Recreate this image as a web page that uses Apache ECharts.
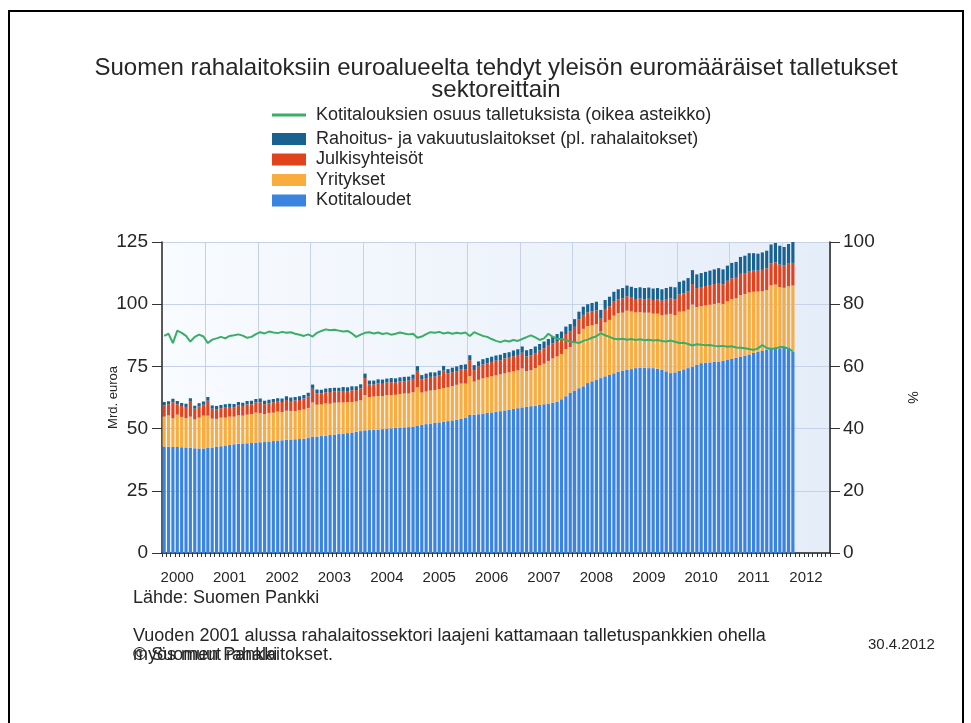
<!DOCTYPE html>
<html>
<head>
<meta charset="utf-8">
<script src="https://cdn.jsdelivr.net/npm/echarts@6/dist/echarts.min.js"></script>
<style>html,body{margin:0;padding:0;background:#fff}#c{width:971px;height:723px}</style>
</head>
<body>
<div id="c"></div>
<script>
// Months on the category axis: Mar 2000 .. Nov 2012 (data through Mar 2012)
const startYear = 2000, startMonth = 3, endYear = 2012, endMonth = 11;
const months = [];
for (let y = startYear; y <= endYear; y++) {
  for (let m = 1; m <= 12; m++) {
    if (y === startYear && m < startMonth) continue;
    if (y === endYear && m > endMonth) continue;
    months.push(y + '-' + (m < 10 ? '0' + m : m));
  }
}

// Kotitaloudet (households), mrd. euroa
const kotitaloudet = [
  42.8, 42.7, 42.6, 42.6, 42.5, 42.4, 42.3, 42.1, 42.0, 42.0,
  42.2, 42.4, 42.6, 42.9, 43.2, 43.5, 43.7, 43.9, 44.0, 44.1, 44.2, 44.4,
  44.5, 44.6, 44.8, 45.0, 45.2, 45.3, 45.5, 45.6, 45.7, 45.8, 45.9, 46.2,
  46.6, 46.8, 47.0, 47.2, 47.4, 47.6, 47.8, 48.0, 48.2, 48.4, 48.7, 49.0,
  49.3, 49.4, 49.5, 49.6, 49.8, 50.0, 50.1, 50.3, 50.4, 50.5, 50.6, 50.8,
  51.2, 51.5, 51.8, 52.0, 52.3, 52.5, 52.8, 53.0, 53.3, 53.6, 53.9, 54.3,
  55.5, 55.6, 55.8, 56.0, 56.3, 56.5, 56.8, 57.0, 57.3, 57.6, 57.9, 58.2,
  58.5, 58.7, 59.0, 59.2, 59.5, 59.8, 60.1, 60.4, 60.8, 61.8, 63.0, 64.3,
  65.3, 66.2, 67.0, 68.3, 69.0, 69.7, 70.3, 71.0, 71.6, 72.2, 72.9, 73.3,
  73.6, 73.9, 74.3, 74.4, 74.4, 74.3, 74.3, 74.1, 73.6, 73.0, 72.3, 72.6,
  73.2, 73.8, 74.3, 74.9, 75.6, 76.3, 76.5, 76.6, 76.8, 76.9, 77.2, 77.6,
  78.0, 78.4, 78.8, 79.3, 79.8, 80.4, 80.8, 81.2, 81.6, 82.0, 82.2, 82.3,
  82.4, 82.4, 80.9
];
// Yritykset (companies)
const yritykset = [
  12.0, 12.6, 11.5, 13.0, 12.2, 11.8, 12.5, 11.6, 12.4, 13.2,
  13.0, 11.6, 11.3, 11.5, 11.2, 11.3, 11.1, 11.4, 11.2, 11.5, 11.6, 12.0,
  11.7, 11.2, 11.5, 11.4, 11.6, 11.3, 11.7, 11.5, 11.4, 11.6, 11.8, 12.1,
  13.9, 12.8, 12.7, 12.9, 12.6, 12.8, 12.7, 12.5, 12.4, 12.3, 12.2, 12.4,
  14.2, 13.3, 13.4, 13.5, 13.3, 13.5, 13.4, 13.3, 13.5, 13.6, 13.5, 13.8,
  15.5, 13.0, 13.1, 13.3, 13.2, 13.4, 13.5, 13.6, 13.8, 14.0, 14.2, 13.8,
  15.6, 13.3, 13.8, 14.2, 14.3, 14.5, 14.6, 14.8, 14.9, 15.0, 15.1, 15.2,
  15.7, 14.4, 14.5, 15.1, 15.9, 16.3, 17.1, 17.8, 18.2, 18.2, 19.0, 18.5,
  19.3, 21.8, 23.1, 22.9, 22.5, 22.3, 18.7, 21.7, 22.1, 23.2, 23.5, 23.3,
  23.8, 23.2, 22.4, 22.4, 22.2, 22.3, 21.9, 22.1, 22.0, 22.8, 23.8, 23.0,
  23.8, 23.3, 23.5, 25.0, 23.3, 22.9, 23.0, 23.2, 23.3, 23.6, 22.9, 23.6,
  24.1, 24.0, 24.9, 24.8, 24.9, 24.6, 24.3, 24.0, 24.1, 25.6, 25.7, 24.6,
  24.2, 24.8, 26.6
];
// Julkisyhteisöt (public sector)
const julkisyhteisot = [
  4.6, 4.5, 6.5, 4.2, 4.4, 4.5, 6.0, 4.3, 4.5, 4.4,
  6.0, 4.0, 3.9, 3.8, 4.0, 3.9, 3.8, 4.0, 3.9, 4.1, 4.0, 4.1,
  4.4, 4.0, 3.9, 4.2, 4.0, 4.1, 4.3, 4.0, 4.2, 4.1, 4.4, 4.6,
  5.5, 4.6, 4.4, 4.5, 4.7, 4.5, 4.4, 4.6, 4.5, 4.7, 4.6, 4.8,
  6.8, 5.0, 4.8, 5.1, 4.9, 5.0, 5.2, 4.9, 5.1, 5.0, 5.2, 5.4,
  6.5, 5.3, 5.4, 5.5, 5.4, 5.6, 7.0, 5.5, 5.6, 5.5, 5.7, 5.8,
  6.4, 4.6, 5.4, 5.6, 5.7, 5.8, 5.9, 5.7, 6.0, 5.9, 6.1, 6.2,
  6.3, 5.9, 6.0, 6.1, 6.0, 6.2, 6.1, 6.0, 6.2, 6.1, 6.0, 6.2,
  6.3, 5.8, 5.6, 5.5, 5.6, 5.5, 5.2, 5.4, 5.5, 5.6, 5.5, 5.7,
  5.8, 5.5, 5.4, 5.5, 5.4, 5.6, 5.5, 5.7, 5.8, 6.0, 6.2, 6.4,
  7.0, 7.2, 7.4, 8.2, 7.6, 7.7, 7.8, 7.9, 8.0, 8.0, 7.9, 8.2,
  8.3, 8.2, 8.5, 8.4, 8.6, 8.5, 8.4, 8.6, 8.7, 8.8, 8.9, 9.0,
  9.0, 9.1, 9.1
];
// Rahoitus- ja vakuutuslaitokset
const rahoitus = [
  1.3, 1.2, 1.4, 1.3, 1.2, 1.3, 1.4, 1.2, 1.3, 1.3,
  1.5, 1.3, 1.3, 1.3, 1.4, 1.3, 1.3, 1.4, 1.3, 1.4, 1.4, 1.4,
  1.5, 1.4, 1.4, 1.3, 1.4, 1.4, 1.5, 1.4, 1.4, 1.5, 1.4, 1.5,
  1.7, 1.5, 1.5, 1.5, 1.6, 1.5, 1.5, 1.6, 1.5, 1.6, 1.5, 1.6,
  1.8, 1.6, 1.6, 1.6, 1.7, 1.6, 1.6, 1.7, 1.6, 1.7, 1.6, 1.7,
  1.9, 1.7, 1.8, 1.8, 1.7, 1.8, 1.9, 1.8, 1.8, 1.9, 1.8, 1.9,
  2.0, 2.0, 2.0, 2.1, 2.1, 2.1, 2.1, 2.2, 2.2, 2.2, 2.3, 2.3,
  2.5, 2.5, 2.5, 2.6, 2.6, 2.7, 2.7, 2.8, 2.8, 2.9, 3.0, 3.0,
  3.1, 3.2, 3.3, 3.3, 3.4, 3.5, 3.5, 3.6, 3.8, 4.0, 4.1, 4.2,
  4.3, 4.4, 4.4, 4.5, 4.5, 4.5, 4.6, 4.6, 4.6, 4.7, 4.7, 4.8,
  5.0, 5.2, 5.3, 5.6, 5.5, 5.6, 5.7, 5.8, 5.9, 6.0, 6.0, 6.1,
  6.2, 6.4, 6.8, 7.0, 7.2, 7.0, 6.8, 7.0, 7.1, 7.6, 7.8, 7.6,
  7.4, 7.9, 8.4
];
// Kotitalouksien osuus talletuksista, % (right axis)
const osuus = [
  69.8, 70.5, 67.5, 71.5, 70.8, 69.8, 68.0, 69.5, 70.2, 69.6,
  67.5, 68.6, 69.0, 69.5, 69.0, 69.8, 70.0, 70.3, 69.9, 69.2, 69.5, 70.4,
  71.0, 70.6, 71.2, 70.9, 70.7, 71.1, 70.8, 71.0, 70.5, 70.2, 69.8, 70.3,
  69.6, 70.8, 71.4, 71.9, 71.6, 71.8, 71.5, 71.2, 71.4, 70.6, 69.5, 70.2,
  70.8, 71.0, 70.6, 70.9, 70.4, 70.7, 70.2, 70.5, 70.9, 70.6, 70.3, 70.5,
  69.2, 69.6, 70.4, 71.0, 70.8, 71.1, 70.6, 70.9, 70.5, 70.8, 70.6, 70.9,
  69.8, 71.0, 70.4, 69.8, 69.5, 68.8, 68.2, 67.8, 68.3, 68.0, 68.5, 68.2,
  68.8, 69.4, 70.0, 69.3, 68.5, 69.0, 70.5, 69.5, 68.9, 68.7, 68.5, 68.0,
  67.8, 67.5, 68.2, 68.6, 69.2, 69.7, 70.7, 70.0, 69.5, 68.9, 68.7, 68.9,
  68.6, 68.8, 68.5, 68.7, 68.4, 68.6, 68.3, 68.5, 68.2, 68.0, 68.3, 67.9,
  67.5, 67.6, 67.2, 66.7, 67.1, 67.0, 66.8, 66.9, 66.6, 66.5, 66.6, 66.3,
  66.5, 66.1, 66.0, 65.8, 65.6, 65.3, 65.8, 66.9, 65.9, 65.6, 65.8, 66.2,
  66.2, 65.7, 64.8
];

const leftTicks = [0, 125, 25];
const rightTicks = [0, 100, 20];

const titleText = 'Suomen rahalaitoksiin euroalueelta tehdyt yleisön euromääräiset talletukset\nsektoreittain';
const sNames = {
  line: 'Kotitalouksien osuus talletuksista (oikea asteikko)',
  f: 'Rahoitus- ja vakuutuslaitokset (pl. rahalaitokset)',
  p: 'Julkisyhteisöt',
  c: 'Yritykset',
  h: 'Kotitaloudet'
};

const FONT = '"Liberation Sans", Arial, sans-serif';
const TXT = '#262626';
const chart = echarts.init(document.getElementById('c'), null, {renderer: 'canvas'});

const barCommon = {type: 'bar', stack: 'dep', barCategoryGap: '28%', xAxisIndex: 0, yAxisIndex: 0};

chart.setOption({
  animation: false,
  backgroundColor: '#ffffff',
  textStyle: {fontFamily: FONT},
  title: {
    text: titleText,
    left: 491, top: 52, textAlign: 'center',
    textStyle: {fontFamily: FONT, fontSize: 24, fontWeight: 'normal', color: TXT, lineHeight: 22}
  },
  legend: [
    {
      orient: 'vertical', left: 272, top: 106, padding: 0,
      itemWidth: 34, itemHeight: 3, itemGap: 2,
      textStyle: {fontFamily: FONT, fontSize: 18, color: TXT, padding: [0, 0, 0, 5]},
      data: [{name: sNames.line, icon: 'rect'}]
    },
    {
      orient: 'vertical', left: 272, top: 130, padding: 0,
      itemWidth: 34, itemHeight: 12, itemGap: 2.5,
      textStyle: {fontFamily: FONT, fontSize: 18, color: TXT, padding: [0, 0, 0, 5]},
      data: [sNames.f, sNames.p, sNames.c, sNames.h].map(n => ({name: n, icon: 'rect'}))
    }
  ],
  grid: {
    left: 162, right: 141, top: 242, bottom: 170, show: true, borderWidth: 0,
    backgroundColor: new echarts.graphic.LinearGradient(0, 0, 1, 0, [
      {offset: 0, color: '#f8fbff'}, {offset: 1, color: '#e5edf8'}
    ])
  },
  xAxis: {
    type: 'category', data: months, boundaryGap: true,
    axisLine: {lineStyle: {color: '#222', width: 1.5}},
    axisTick: {show: true, interval: 0, length: 4, lineStyle: {color: '#333'}},
    axisLabel: {
      interval: (i, v) => v.slice(5) === '06',
      formatter: v => v.slice(0, 4),
      margin: 17, fontSize: 15, color: TXT, fontFamily: FONT
    },
    splitLine: {show: true, interval: (i, v) => v.slice(5) === '01', lineStyle: {color: '#c6d2e8', width: 1}}
  },
  yAxis: [
    {
      type: 'value', min: leftTicks[0], max: leftTicks[1], interval: leftTicks[2],
      name: 'Mrd. euroa', nameLocation: 'middle', nameGap: 42, nameRotate: 90, nameMoveOverlap: false,
      nameTextStyle: {fontFamily: FONT, fontSize: 13, color: TXT},
      axisLine: {show: true, lineStyle: {color: '#222', width: 1.5}},
      axisTick: {show: true, length: 10, lineStyle: {color: '#333'}},
      axisLabel: {fontSize: 19, color: TXT, margin: 14, fontFamily: FONT},
      splitLine: {show: true, lineStyle: {color: '#c6d2e8', width: 1}}
    },
    {
      type: 'value', min: rightTicks[0], max: rightTicks[1], interval: rightTicks[2], position: 'right',
      name: '%', nameLocation: 'middle', nameGap: 75, nameRotate: -90, nameMoveOverlap: false,
      nameTextStyle: {fontFamily: FONT, fontSize: 14, color: TXT},
      axisLine: {show: true, lineStyle: {color: '#222', width: 1.5}},
      axisTick: {show: true, length: 10, lineStyle: {color: '#333'}},
      axisLabel: {fontSize: 19, color: TXT, margin: 13, fontFamily: FONT},
      splitLine: {show: false}
    }
  ],
  series: [
    Object.assign({name: sNames.h, data: kotitaloudet, itemStyle: {color: '#3a83df'}}, barCommon),
    Object.assign({name: sNames.c, data: yritykset, itemStyle: {color: '#f9ad3e'}}, barCommon),
    Object.assign({name: sNames.p, data: julkisyhteisot, itemStyle: {color: '#e1441c'}}, barCommon),
    Object.assign({name: sNames.f, data: rahoitus, itemStyle: {color: '#17628f'}}, barCommon),
    {
      name: sNames.line, type: 'line', yAxisIndex: 1, data: osuus,
      showSymbol: false, symbol: 'none', z: 5,
      lineStyle: {color: '#3aae66', width: 2}, itemStyle: {color: '#3aae66'}
    }
  ],
  graphic: [
    {type: 'rect', shape: {x: 9, y: 11, width: 954, height: 800}, style: {fill: 'none', stroke: '#000', lineWidth: 2}, silent: true},
    {type: 'text', left: 133, top: 589, style: {text: 'Lähde: Suomen Pankki', font: '18px ' + FONT, fill: TXT}},
    {type: 'text', left: 133, top: 627, style: {text: 'Vuoden 2001 alussa rahalaitossektori laajeni kattamaan talletuspankkien ohella', font: '18px ' + FONT, fill: TXT}},
    {type: 'text', left: 133, top: 646, style: {text: 'myös muut rahalaitokset.', font: '18px ' + FONT, fill: TXT}},
    {type: 'text', left: 133, top: 646, style: {text: '© Suomen Pankki', font: '18px ' + FONT, fill: TXT}},
    {type: 'text', left: 868, top: 637, style: {text: '30.4.2012', font: '15px ' + FONT, fill: TXT}}
  ]
});
</script>
</body>
</html>
